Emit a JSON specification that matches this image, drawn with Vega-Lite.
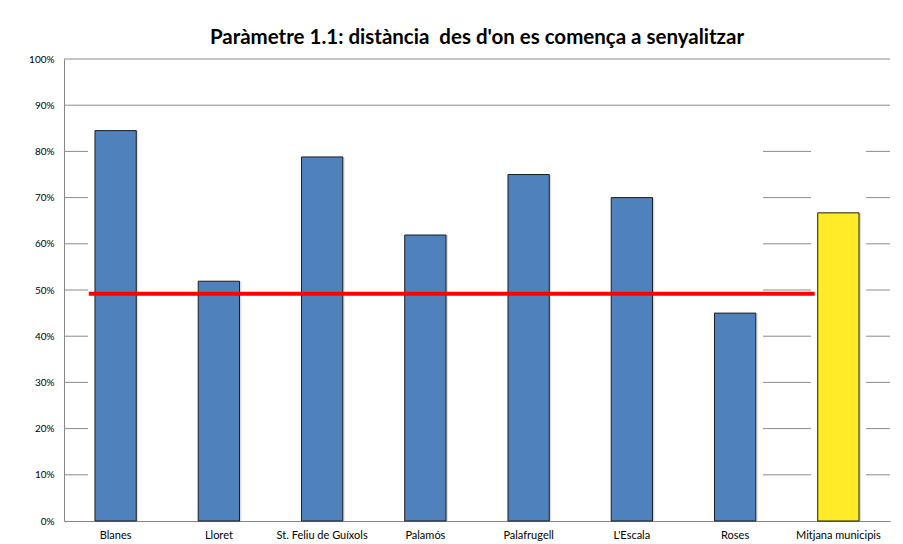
{
  "$schema": "https://vega.github.io/schema/vega-lite/v6.json",
  "width": 826,
  "height": 462,
  "autosize": "none",
  "padding": {"left": 64, "top": 59, "right": 13, "bottom": 23},
  "background": "white",
  "config": {
    "view": {"stroke": null},
    "font": "Lato",
    "axisX": {
      "title": null,
      "labelAngle": 0,
      "ticks": false,
      "tickSize": 0,
      "grid": false,
      "domainColor": "#868686",
      "domainWidth": 1,
      "labelFont": "Lato",
      "labelFontSize": 11,
      "labelColor": "#000000",
      "labelPadding": 8
    },
    "axisY": {
      "title": null,
      "grid": false,
      "ticks": false,
      "tickSize": 0,
      "domainColor": "#868686",
      "domainWidth": 1,
      "labelFont": "Lato",
      "labelFontSize": 10,
      "labelColor": "#000000",
      "labelPadding": 10
    }
  },
  "title": {
    "text": "Paràmetre 1.1: distància\u00a0 des d'on es comença a senyalitzar",
    "font": "Lato",
    "fontSize": 20.5,
    "fontWeight": "bold",
    "color": "#000000",
    "anchor": "middle",
    "offset": 6
  },
  "datasets": {
    "municipis": [
      {"municipi": "Blanes", "percentatge": 0.845},
      {"municipi": "Lloret", "percentatge": 0.519},
      {"municipi": "St. Feliu de Guíxols", "percentatge": 0.788},
      {"municipi": "Palamós", "percentatge": 0.619},
      {"municipi": "Palafrugell", "percentatge": 0.75},
      {"municipi": "L'Escala", "percentatge": 0.70},
      {"municipi": "Roses", "percentatge": 0.45},
      {"municipi": "Mitjana municipis", "percentatge": 0.667}
    ],
    "graella": [
      {"nivell": 1.0, "inici": 0, "final": 8},
      {"nivell": 0.9, "inici": 0, "final": 8},
      {"nivell": 0.8, "inici": 0, "final": 0.232},
      {"nivell": 0.8, "inici": 6.77, "final": 7.235},
      {"nivell": 0.8, "inici": 7.768, "final": 8},
      {"nivell": 0.7, "inici": 0, "final": 0.232},
      {"nivell": 0.7, "inici": 6.77, "final": 7.235},
      {"nivell": 0.7, "inici": 7.768, "final": 8},
      {"nivell": 0.6, "inici": 0, "final": 0.232},
      {"nivell": 0.6, "inici": 6.77, "final": 7.235},
      {"nivell": 0.6, "inici": 7.768, "final": 8},
      {"nivell": 0.5, "inici": 0, "final": 0.232},
      {"nivell": 0.5, "inici": 6.77, "final": 7.235},
      {"nivell": 0.5, "inici": 7.768, "final": 8},
      {"nivell": 0.4, "inici": 0, "final": 0.232},
      {"nivell": 0.4, "inici": 6.77, "final": 7.235},
      {"nivell": 0.4, "inici": 7.768, "final": 8},
      {"nivell": 0.3, "inici": 0, "final": 0.232},
      {"nivell": 0.3, "inici": 6.77, "final": 7.235},
      {"nivell": 0.3, "inici": 7.768, "final": 8},
      {"nivell": 0.2, "inici": 0, "final": 0.232},
      {"nivell": 0.2, "inici": 6.77, "final": 7.235},
      {"nivell": 0.2, "inici": 7.768, "final": 8},
      {"nivell": 0.1, "inici": 0, "final": 0.232},
      {"nivell": 0.1, "inici": 6.77, "final": 7.235},
      {"nivell": 0.1, "inici": 7.768, "final": 8}
    ],
    "referencia": [
      {"valor": 0.492, "inici": 0.24, "final": 7.27}
    ]
  },
  "layer": [
    {
      "data": {"name": "graella"},
      "mark": {"type": "rule", "color": "#8a8a8a", "strokeWidth": 1},
      "encoding": {
        "x": {"field": "inici", "type": "quantitative", "scale": {"domain": [0, 8], "nice": false, "zero": false}, "axis": null},
        "x2": {"field": "final"},
        "y": {"field": "nivell", "type": "quantitative", "scale": {"domain": [0, 1], "nice": false}, "axis": {"values": [0, 0.1, 0.2, 0.3, 0.4, 0.5, 0.6, 0.7, 0.8, 0.9, 1.0], "format": ".0%"}}
      }
    },
    {
      "layer": [
        {
          "mark": {"type": "bar", "color": "#000000", "opacity": 0.12, "xOffset": 2}
        },
        {
          "mark": {"type": "bar", "stroke": "#1c1c1c", "strokeWidth": 1},
          "encoding": {
            "color": {
              "condition": {"test": "datum.municipi === 'Mitjana municipis'", "value": "#FFEB28"},
              "value": "#4F81BD"
            }
          }
        }
      ],
      "data": {"name": "municipis"},
      "encoding": {
        "x": {
          "field": "municipi",
          "type": "nominal",
          "sort": null,
          "scale": {"paddingInner": 0.6, "paddingOuter": 0.3}
        },
        "y": {
          "field": "percentatge",
          "type": "quantitative",
          "scale": {"domain": [0, 1], "nice": false},
          "axis": {"values": [0, 0.1, 0.2, 0.3, 0.4, 0.5, 0.6, 0.7, 0.8, 0.9, 1.0], "format": ".0%"}
        }
      }
    },
    {
      "data": {"name": "referencia"},
      "mark": {"type": "rule", "color": "#FF0000", "strokeWidth": 4},
      "encoding": {
        "x": {"field": "inici", "type": "quantitative", "scale": {"domain": [0, 8], "nice": false, "zero": false}, "axis": null},
        "x2": {"field": "final"},
        "y": {"field": "valor", "type": "quantitative", "scale": {"domain": [0, 1], "nice": false}, "axis": {"values": [0, 0.1, 0.2, 0.3, 0.4, 0.5, 0.6, 0.7, 0.8, 0.9, 1.0], "format": ".0%"}}
      }
    }
  ],
  "resolve": {"scale": {"x": "independent"}}
}
